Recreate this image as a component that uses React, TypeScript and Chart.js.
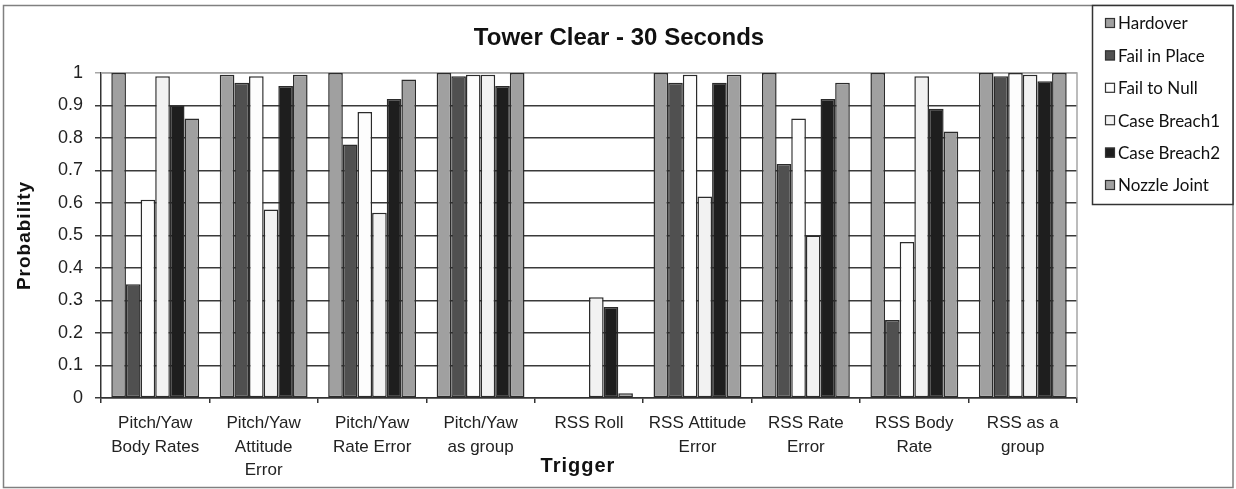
import React, { useEffect, useRef } from "react";
import { Chart, registerables } from "chart.js";

Chart.register(...registerables);

const categories: (string | string[])[] = [
  ["Pitch/Yaw", "Body Rates"],
  ["Pitch/Yaw", "Attitude", "Error"],
  ["Pitch/Yaw", "Rate Error"],
  ["Pitch/Yaw", "as group"],
  "RSS Roll",
  ["RSS Attitude", "Error"],
  ["RSS Rate", "Error"],
  ["RSS Body", "Rate"],
  ["RSS as a", "group"],
];

const seriesNames = ["Hardover", "Fail in Place", "Fail to Null", "Case Breach1", "Case Breach2", "Nozzle Joint"];
const hardover = [1.0, 0.995, 1.0, 1.0, 0, 1.0, 1.0, 1.0, 1.0];
const failInPlace = [0.35, 0.97, 0.78, 0.99, 0, 0.97, 0.72, 0.24, 0.99];
const failToNull = [0.61, 0.99, 0.88, 0.995, 0, 0.995, 0.86, 0.48, 1.0];
const caseBreach1 = [0.99, 0.58, 0.57, 0.995, 0.31, 0.62, 0.5, 0.99, 0.995];
const caseBreach2 = [0.9, 0.96, 0.92, 0.96, 0.28, 0.97, 0.92, 0.89, 0.975];
const nozzleJoint = [0.86, 0.995, 0.98, 1.0, 0.015, 0.995, 0.97, 0.82, 1.0];
const seriesColors = ["#a0a0a0", "#505050", "#fdfdfd", "#f2f2f2", "#1e1e1e", "#a0a0a0"];

const titleText = "Tower Clear - 30 Seconds";
const yTitle = "Probability";
const xTitle = "Trigger";

const decorPlugin = {
  id: "decor",
  beforeDraw(chart: any) {
    const ctx = chart.ctx;
    ctx.save();
    ctx.fillStyle = "#ffffff";
    ctx.fillRect(0, 0, chart.width, chart.height);
    ctx.restore();
  },
  beforeDatasetsDraw(chart: any) {
    const { ctx, chartArea } = chart;
    ctx.save();
    ctx.strokeStyle = "#a6a6a6";
    ctx.lineWidth = 1.5;
    ctx.beginPath();
    ctx.moveTo(chartArea.left, chartArea.top);
    ctx.lineTo(chartArea.right, chartArea.top);
    ctx.lineTo(chartArea.right, chartArea.bottom);
    ctx.stroke();
    ctx.restore();
  },
  afterDraw(chart: any) {
    const { ctx, chartArea } = chart;
    ctx.save();
    // outer border
    ctx.strokeStyle = "#808080";
    ctx.lineWidth = 1.5;
    ctx.strokeRect(3.5, 5.5, 1229.5, 482);

    // title
    ctx.fillStyle = "#111";
    ctx.textAlign = "center";
    ctx.textBaseline = "middle";
    ctx.font = "bold 24px 'Liberation Sans', Arial, sans-serif";
    ctx.fillText(titleText, 619, 38);

    // axis titles
    try { (ctx as any).letterSpacing = "1px"; } catch (e) {}
    ctx.font = "bold 19px 'Liberation Sans', Arial, sans-serif";
    ctx.save();
    ctx.translate(25, (chartArea.top + chartArea.bottom) / 2);
    ctx.rotate(-Math.PI / 2);
    ctx.fillText(yTitle, 0, 0);
    ctx.restore();
    ctx.font = "bold 20px 'Liberation Sans', Arial, sans-serif";
    ctx.fillText(xTitle, 578, 466);
    try { (ctx as any).letterSpacing = "0px"; } catch (e) {}

    // legend box
    ctx.strokeStyle = "#333";
    ctx.lineWidth = 1.5;
    ctx.fillStyle = "#fff";
    ctx.fillRect(1092.5, 5.5, 140.5, 199);
    ctx.strokeRect(1092.5, 5.5, 140.5, 199);
    ctx.textAlign = "left";
    ctx.font = "17px Lato, 'Open Sans', sans-serif";
    chart.data.datasets.forEach((ds: any, i: number) => {
      const y = 23 + i * 32.4;
      ctx.fillStyle = ds.backgroundColor;
      ctx.fillRect(1105, y - 5, 10, 10);
      ctx.strokeStyle = "#333";
      ctx.lineWidth = 1.2;
      ctx.strokeRect(1105.5, y - 4.5, 9, 9);
      ctx.fillStyle = "#111";
      ctx.fillText(ds.label, 1118, y + 1);
    });
    ctx.restore();
  },
};

export default function App() {
  const ref = useRef<HTMLCanvasElement | null>(null);
  useEffect(() => {
    if (!ref.current) return;
    const values = [hardover, failInPlace, failToNull, caseBreach1, caseBreach2, nozzleJoint];
    const chart = new Chart(ref.current, {
      type: "bar",
      data: {
        labels: categories,
        datasets: values.map((v, i) => ({
          label: seriesNames[i],
          data: v,
          backgroundColor: seriesColors[i],
          borderColor: "#2b2b2b",
          borderWidth: 1.5,
          borderSkipped: false,
          categoryPercentage: 0.81,
          barPercentage: 1.0,
        })),
      },
      options: {
        responsive: false,
        animation: false,
        devicePixelRatio: 1,
        layout: { padding: { top: 73, right: 159, left: 0, bottom: 0 } },
        plugins: {
          legend: { display: false },
          title: { display: false },
          tooltip: { enabled: false },
        },
        scales: {
          x: {
            afterFit: (s: any) => { s.height = 91; },
            grid: {
              display: true,
              drawOnChartArea: false,
              drawTicks: true,
              tickLength: 5,
              color: "#333",
              lineWidth: 1.5,
              offset: true,
            },
            border: { display: true, color: "#333", width: 1.5 },
            ticks: {
              color: "#222",
              padding: 9,
              maxRotation: 0,
              autoSkip: false,
              font: { family: "'Liberation Sans', Arial, sans-serif", size: 17, lineHeight: 1.38 },
            },
          },
          y: {
            min: 0,
            max: 1,
            afterFit: (s: any) => { s.width = 101; },
            grid: {
              color: (c: any) => (c.tick && c.tick.value >= 1 ? "#a6a6a6" : "#3a3a3a"),
              lineWidth: 1.5,
              tickLength: 6,
              drawTicks: true,
            },
            border: { display: true, color: "#333", width: 1.5 },
            ticks: {
              stepSize: 0.1,
              color: "#222",
              padding: 12,
              font: { family: "'Liberation Sans', Arial, sans-serif", size: 18 },
              callback: (v: any) => String(Number(Number(v).toFixed(1))),
            },
          },
        },
      },
      plugins: [decorPlugin],
    });
    return () => chart.destroy();
  }, []);
  return (
    <div style={{ position: "fixed", left: 0, top: 0, width: 1236, height: 489, background: "#fff" }}>
      <canvas ref={ref} width={1236} height={489} style={{ display: "block" }} />
    </div>
  );
}
